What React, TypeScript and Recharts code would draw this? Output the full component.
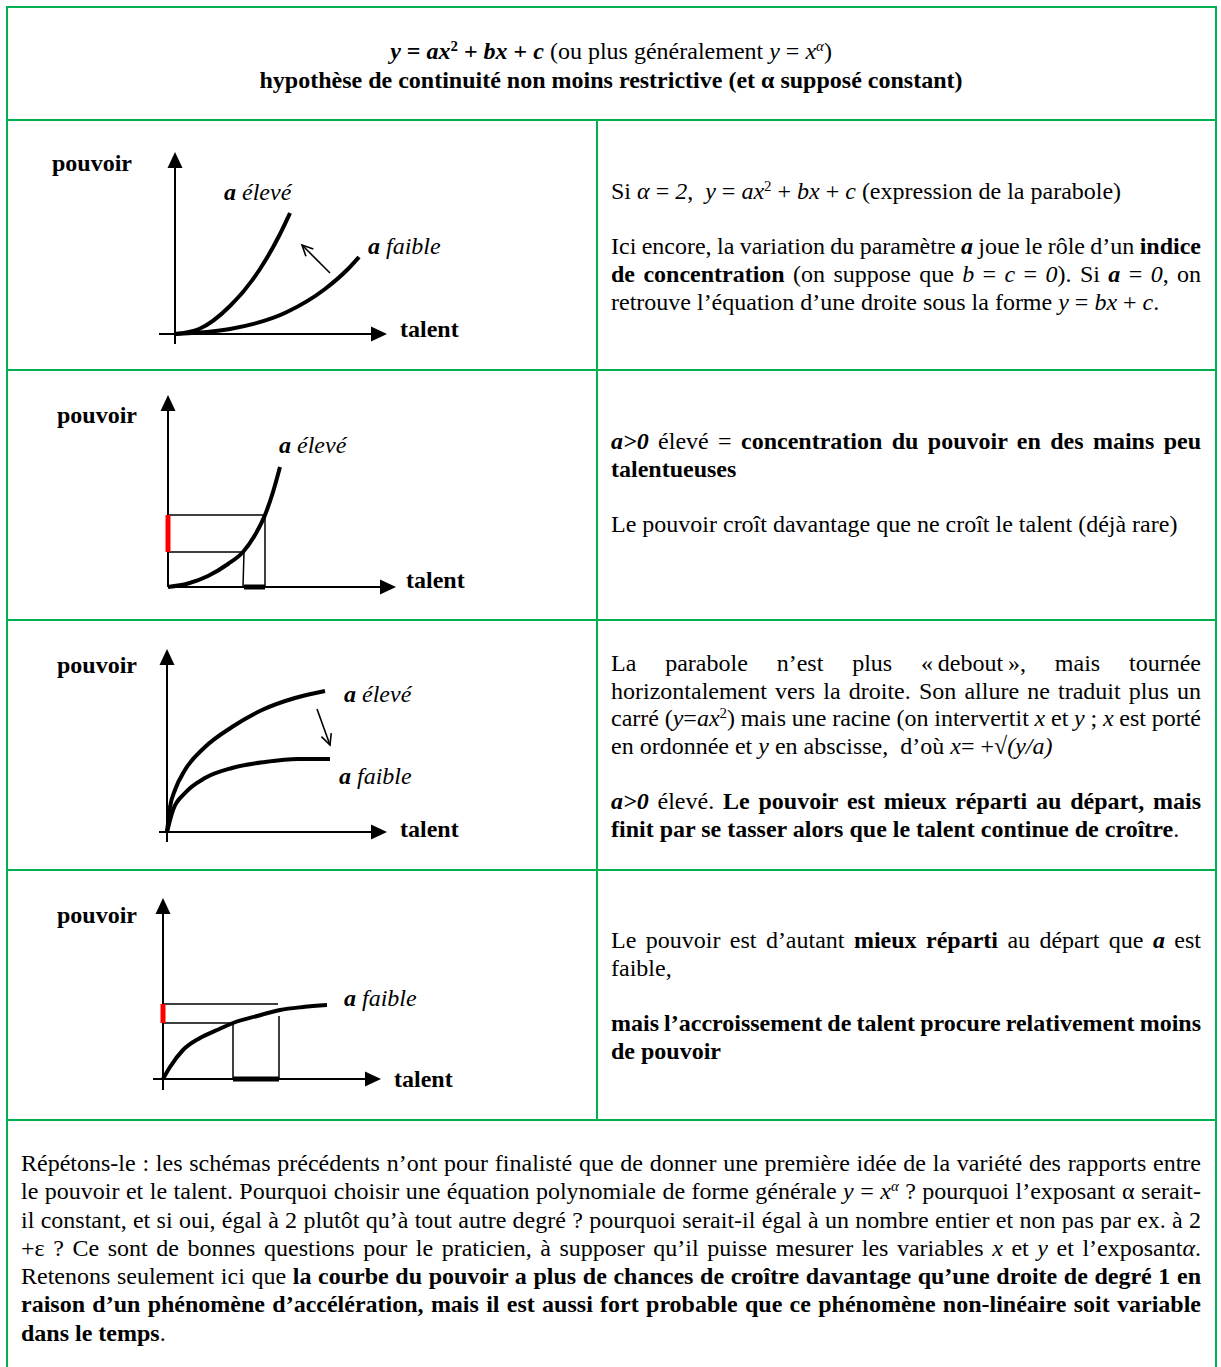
import React from "react";
import { LineChart, Line, XAxis, YAxis, ReferenceDot } from "recharts";

type Pt = { x: number; y: number };
type Label = { x: number; y: number; text: string; a?: boolean };

const SERIF = '"Liberation Serif", "Times New Roman", Times, serif';
const GREEN = "#00b050";

// talent (x) / pouvoir (y), arbitrary units read off the sketches
// diagram 1 : parabola, a high vs a low
const d1AxisX: Pt[] = [{ x: -1.6, y: 0 }, { x: 21.2, y: 0 }];
const d1AxisY: Pt[] = [{ x: 0, y: -1.0 }, { x: 0, y: 18.2 }];
const d1High: Pt[] = [
  { x: 0, y: 0 }, { x: 2.4, y: 0.5 }, { x: 5.5, y: 2.8 },
  { x: 8.5, y: 6.5 }, { x: 10.4, y: 9.8 }, { x: 11.5, y: 12.1 },
];
const d1Low: Pt[] = [
  { x: 0, y: 0 }, { x: 5.5, y: 0.5 }, { x: 11.2, y: 2.2 },
  { x: 15.0, y: 4.5 }, { x: 17.3, y: 6.5 }, { x: 18.4, y: 7.7 },
];
const d1Arrow: Pt[] = [{ x: 15.5, y: 6.1 }, { x: 12.7, y: 8.9 }];
const d1Labels: Label[] = [
  { x: -12.3, y: 17.1, text: "pouvoir" },
  { x: 22.5, y: 0.5, text: "talent" },
  { x: 4.9, y: 14.2, text: "élevé", a: true },
  { x: 19.3, y: 8.8, text: "faible", a: true },
];

// diagram 2 : a high, with projections
const d2AxisX: Pt[] = [{ x: 0, y: 0 }, { x: 22.8, y: 0 }];
const d2AxisY: Pt[] = [{ x: 0, y: 0 }, { x: 0, y: 19.2 }];
const d2High: Pt[] = [
  { x: 0, y: 0 }, { x: 2.0, y: 0.35 }, { x: 4.0, y: 1.1 }, { x: 6.0, y: 2.3 },
  { x: 7.5, y: 3.5 }, { x: 8.7, y: 5.2 }, { x: 9.7, y: 7.2 }, { x: 10.5, y: 9.5 },
  { x: 11.2, y: 12.0 },
];
const d2Guides: Pt[][] = [
  [{ x: 0, y: 7.2 }, { x: 9.7, y: 7.2 }, { x: 9.7, y: 0 }],
  [{ x: 0, y: 3.5 }, { x: 7.6, y: 3.5 }, { x: 7.5, y: 0 }],
];
const d2Red: Pt[] = [{ x: 0, y: 3.5 }, { x: 0, y: 7.2 }];
const d2Black: Pt[] = [{ x: 7.6, y: 0 }, { x: 9.7, y: 0 }];
const d2Labels: Label[] = [
  { x: -11.1, y: 17.2, text: "pouvoir" },
  { x: 23.8, y: 0.7, text: "talent" },
  { x: 11.1, y: 14.2, text: "élevé", a: true },
];

// diagram 3 : root shape, a high vs a low
const d3AxisX: Pt[] = [{ x: -0.8, y: 0 }, { x: 22.0, y: 0 }];
const d3AxisY: Pt[] = [{ x: 0, y: -1.0 }, { x: 0, y: 18.3 }];
const d3High: Pt[] = [
  { x: 0, y: 0 }, { x: 0.3, y: 2.5 }, { x: 0.8, y: 4.2 }, { x: 1.8, y: 6.2 },
  { x: 3.8, y: 8.5 }, { x: 6.5, y: 10.5 }, { x: 9.5, y: 12.2 }, { x: 12.8, y: 13.4 },
  { x: 15.8, y: 14.1 },
];
const d3Low: Pt[] = [
  { x: 0, y: 0 }, { x: 0.6, y: 2.2 }, { x: 1.8, y: 3.9 }, { x: 3.8, y: 5.4 },
  { x: 6.5, y: 6.4 }, { x: 9.8, y: 7.0 }, { x: 13.1, y: 7.3 }, { x: 16.3, y: 7.3 },
];
const d3Arrow: Pt[] = [{ x: 15.0, y: 12.3 }, { x: 16.3, y: 8.7 }];
const d3Labels: Label[] = [
  { x: -11.0, y: 16.7, text: "pouvoir" },
  { x: 23.3, y: 0.3, text: "talent" },
  { x: 17.7, y: 13.8, text: "élevé", a: true },
  { x: 17.2, y: 5.6, text: "faible", a: true },
];

// diagram 4 : a low, with projections
const d4AxisX: Pt[] = [{ x: -1.0, y: 0 }, { x: 21.8, y: 0 }];
const d4AxisY: Pt[] = [{ x: 0, y: -1.1 }, { x: 0, y: 18.1 }];
const d4Low: Pt[] = [
  { x: 0, y: 0 }, { x: 0.7, y: 1.2 }, { x: 2.0, y: 2.9 }, { x: 3.7, y: 4.1 },
  { x: 5.4, y: 4.9 }, { x: 7.0, y: 5.6 }, { x: 9.4, y: 6.3 }, { x: 11.7, y: 6.9 },
  { x: 14.0, y: 7.2 }, { x: 16.4, y: 7.4 },
];
const d4Guides: Pt[][] = [
  [{ x: 0, y: 7.5 }, { x: 11.5, y: 7.5 }],
  [{ x: 11.6, y: 6.3 }, { x: 11.6, y: 0 }],
  [{ x: 0, y: 5.6 }, { x: 7.0, y: 5.6 }, { x: 7.0, y: 0 }],
];
const d4Red: Pt[] = [{ x: 0, y: 5.6 }, { x: 0, y: 7.5 }];
const d4Black: Pt[] = [{ x: 7.0, y: 0 }, { x: 11.6, y: 0 }];
const d4Labels: Label[] = [
  { x: -10.6, y: 16.4, text: "pouvoir" },
  { x: 23.1, y: 0, text: "talent" },
  { x: 18.1, y: 8.1, text: "faible", a: true },
];

const X_DOMAIN: [number, number] = [-15, 41];
const Y_DOMAIN: [number, number] = [-4, 20];
const CW = 560;
const CH = 240;

type Spec = {
  ox: number;
  oy: number;
  axisX: Pt[];
  axisY: Pt[];
  curves: Pt[][];
  guides?: Pt[][];
  red?: Pt[];
  black?: Pt[];
  arrow?: Pt[];
  labels: Label[];
};

const specs: Spec[] = [
  { ox: 175, oy: 334, axisX: d1AxisX, axisY: d1AxisY, curves: [d1High, d1Low], arrow: d1Arrow, labels: d1Labels },
  { ox: 168, oy: 587, axisX: d2AxisX, axisY: d2AxisY, curves: [d2High], guides: d2Guides, red: d2Red, black: d2Black, labels: d2Labels },
  { ox: 167, oy: 832, axisX: d3AxisX, axisY: d3AxisY, curves: [d3High, d3Low], arrow: d3Arrow, labels: d3Labels },
  { ox: 163, oy: 1079, axisX: d4AxisX, axisY: d4AxisY, curves: [d4Low], guides: d4Guides, red: d4Red, black: d4Black, labels: d4Labels },
];

const triangle = (dir: "right" | "up") => (p: any) => {
  const { cx, cy } = p;
  const pts =
    dir === "right"
      ? `${cx},${cy} ${cx - 16},${cy - 7.5} ${cx - 16},${cy + 7.5}`
      : `${cx},${cy} ${cx - 7.5},${cy + 16} ${cx + 7.5},${cy + 16}`;
  return <polygon points={pts} fill="#000" />;
};

const openHead = (from: Pt, to: Pt) => (p: any) => {
  const { cx, cy } = p;
  const ang = Math.atan2(-(to.y - from.y), to.x - from.x);
  const L = 12;
  const w1 = [cx - L * Math.cos(ang - 0.45), cy - L * Math.sin(ang - 0.45)];
  const w2 = [cx - L * Math.cos(ang + 0.45), cy - L * Math.sin(ang + 0.45)];
  return (
    <path
      d={`M${w1[0]},${w1[1]} L${cx},${cy} L${w2[0]},${w2[1]}`}
      fill="none"
      stroke="#000"
      strokeWidth={1.6}
    />
  );
};

const labelShape = (l: Label) => (p: any) => (
  <text x={p.cx} y={p.cy} dominantBaseline="central" fontFamily={SERIF} fontSize={24} fill="#000">
    {l.a ? (
      <>
        <tspan fontWeight="bold" fontStyle="italic">a</tspan>
        <tspan fontStyle="italic">{" " + l.text}</tspan>
      </>
    ) : (
      <tspan fontWeight="bold">{l.text}</tspan>
    )}
  </text>
);

function Diagram({ spec }: { spec: Spec }) {
  const xEnd = spec.axisX[spec.axisX.length - 1];
  const yEnd = spec.axisY[spec.axisY.length - 1];
  const xLine = [spec.axisX[0], { x: xEnd.x - 1, y: xEnd.y }];
  const yLine = [spec.axisY[0], { x: yEnd.x, y: yEnd.y - 1 }];
  return (
    <div style={{ position: "absolute", left: spec.ox - 150, top: spec.oy - 200 }}>
      <LineChart width={CW} height={CH} margin={{ top: 0, right: 0, bottom: 0, left: 0 }}>
        <XAxis type="number" dataKey="x" domain={X_DOMAIN} hide allowDataOverflow />
        <YAxis type="number" domain={Y_DOMAIN} hide allowDataOverflow />
        <Line data={xLine} dataKey="y" type="linear" stroke="#000" strokeWidth={2} dot={false} isAnimationActive={false} />
        <Line data={yLine} dataKey="y" type="linear" stroke="#000" strokeWidth={2} dot={false} isAnimationActive={false} />
        {(spec.guides || []).map((g, i) => (
          <Line key={"g" + i} data={g} dataKey="y" type="linear" stroke="#000" strokeWidth={1.5} dot={false} isAnimationActive={false} />
        ))}
        {spec.curves.map((c, i) => (
          <Line key={"c" + i} data={c} dataKey="y" type="monotone" stroke="#000" strokeWidth={4} dot={false} isAnimationActive={false} />
        ))}
        {spec.red && (
          <Line data={spec.red} dataKey="y" type="linear" stroke="#ff0000" strokeWidth={5} dot={false} isAnimationActive={false} />
        )}
        {spec.black && (
          <Line data={spec.black} dataKey="y" type="linear" stroke="#000" strokeWidth={5} dot={false} isAnimationActive={false} />
        )}
        {spec.arrow && (
          <Line data={spec.arrow} dataKey="y" type="linear" stroke="#000" strokeWidth={1.6} dot={false} isAnimationActive={false} />
        )}
        {spec.arrow && (
          <ReferenceDot
            x={spec.arrow[1].x}
            y={spec.arrow[1].y}
            shape={openHead(spec.arrow[0], spec.arrow[1])}
          />
        )}
        <ReferenceDot x={xEnd.x} y={xEnd.y} shape={triangle("right")} />
        <ReferenceDot x={yEnd.x} y={yEnd.y} shape={triangle("up")} />
        {spec.labels.map((l, i) => (
          <ReferenceDot key={"l" + i} x={l.x} y={l.y} shape={labelShape(l)} />
        ))}
      </LineChart>
    </div>
  );
}

const LH = 27.7;
const NNB = "\u202f";

const Sup = ({ children }: { children: React.ReactNode }) => (
  <span style={{ fontSize: "0.62em", position: "relative", top: "-0.55em" }}>{children}</span>
);

// one printed line; justified lines get their word spacing fitted to the width
function Ln({ children, j, lh = LH, w = 590 }: { children?: React.ReactNode; j?: boolean; lh?: number; w?: number }) {
  const ref = React.useRef<HTMLSpanElement>(null);
  React.useLayoutEffect(() => {
    if (!j) return;
    const fit = () => {
      const el = ref.current;
      if (!el) return;
      el.style.wordSpacing = "0px";
      const natural = el.getBoundingClientRect().width;
      const gaps = (el.textContent || "").trim().split(/ +/).length - 1;
      if (gaps > 0) el.style.wordSpacing = (w - natural) / gaps + "px";
    };
    fit();
    if ((document as any).fonts) (document as any).fonts.ready.then(fit);
  }, [j, w]);
  return (
    <div style={{ height: lh, lineHeight: lh + "px", whiteSpace: "nowrap" }}>
      <span ref={ref}>{children || "\u00a0"}</span>
    </div>
  );
}

const Block = ({ left, top, width, children }: { left: number; top: number; width: number; children: React.ReactNode }) => (
  <div style={{ position: "absolute", left, top, width }}>{children}</div>
);

const hLine = (y: number) => (
  <div style={{ position: "absolute", left: 6, top: y - 1, width: 1211, height: 2, background: GREEN }} />
);

export default function App() {
  const F = 1180;
  const FL = 28.3;
  return (
    <div
      style={{
        position: "absolute",
        left: 0,
        top: 0,
        width: 1221,
        height: 1367,
        overflow: "hidden",
        background: "#fff",
        fontFamily: SERIF,
        fontSize: 24,
        color: "#000",
      }}
    >
      <div
        style={{
          position: "absolute",
          left: 6,
          top: 6,
          width: 1211,
          height: 1380,
          boxSizing: "border-box",
          border: `2px solid ${GREEN}`,
        }}
      />
      {hLine(120)}
      {hLine(370)}
      {hLine(620)}
      {hLine(870)}
      {hLine(1120)}
      <div style={{ position: "absolute", left: 596, top: 120, width: 2, height: 1000, background: GREEN }} />

      <Block left={7} top={37} width={1208}>
        <div style={{ textAlign: "center", lineHeight: "29px", height: 29 }}>
          <b>
            <i>y</i> = <i>ax</i>
            <Sup>2</Sup> + <i>bx</i> + <i>c</i>
          </b>{" "}
          (ou plus généralement <i>y</i> = <i>x</i>
          <Sup>
            <i>α</i>
          </Sup>
          )
        </div>
        <div style={{ textAlign: "center", lineHeight: "29px", height: 29 }}>
          <b>hypothèse de continuité non moins restrictive (et α supposé constant)</b>
        </div>
      </Block>

      {specs.map((s, i) => (
        <Diagram key={i} spec={s} />
      ))}

      <Block left={611} top={178} width={590}>
        <Ln>
          Si <i>α</i> = <i>2</i>,{"\u00a0"} <i>y</i> = <i>ax</i>
          <Sup>2</Sup> + <i>bx</i> + <i>c</i> (expression de la parabole)
        </Ln>
        <Ln />
        <Ln j>
          Ici encore, la variation du paramètre{" "}
          <b>
            <i>a</i>
          </b>{" "}
          joue le rôle d’un <b>indice</b>
        </Ln>
        <Ln j>
          <b>de concentration</b> (on suppose que <i>b</i> = <i>c</i> = <i>0</i>). Si{" "}
          <b>
            <i>a</i>
          </b>{" "}
          = <i>0</i>, on
        </Ln>
        <Ln>
          retrouve l’équation d’une droite sous la forme <i>y</i> = <i>bx</i> + <i>c</i>.
        </Ln>
      </Block>

      <Block left={611} top={428} width={590}>
        <Ln j>
          <b>
            <i>a&gt;0</i>
          </b>{" "}
          élevé = <b>concentration du pouvoir en des mains peu</b>
        </Ln>
        <Ln>
          <b>talentueuses</b>
        </Ln>
        <Ln />
        <Ln>Le pouvoir croît davantage que ne croît le talent (déjà rare)</Ln>
      </Block>

      <Block left={611} top={650} width={590}>
        <Ln j>
          La parabole n’est plus «{NNB}debout{NNB}», mais tournée
        </Ln>
        <Ln j>horizontalement vers la droite. Son allure ne traduit plus un</Ln>
        <Ln j>
          carré (<i>y</i>=<i>ax</i>
          <Sup>2</Sup>) mais une racine (on intervertit <i>x</i> et <i>y</i> ; <i>x</i> est porté
        </Ln>
        <Ln>
          en ordonnée et <i>y</i> en abscisse,{"\u00a0"} d’où <i>x</i>= +√<i>(y/a)</i>
        </Ln>
        <Ln />
        <Ln j>
          <b>
            <i>a&gt;0</i>
          </b>{" "}
          élevé. <b>Le pouvoir est mieux réparti au départ, mais</b>
        </Ln>
        <Ln>
          <b>finit par se tasser alors que le talent continue de croître</b>.
        </Ln>
      </Block>

      <Block left={611} top={927} width={590}>
        <Ln j>
          Le pouvoir est d’autant <b>mieux réparti</b> au départ que{" "}
          <b>
            <i>a</i>
          </b>{" "}
          est
        </Ln>
        <Ln>faible,</Ln>
        <Ln />
        <Ln j>
          <b>mais l’accroissement de talent procure relativement moins</b>
        </Ln>
        <Ln>
          <b>de pouvoir</b>
        </Ln>
      </Block>

      <Block left={21} top={1149} width={F}>
        <Ln j lh={FL} w={F}>
          Répétons-le : les schémas précédents n’ont pour finalisté que de donner une première idée de la variété des rapports entre
        </Ln>
        <Ln j lh={FL} w={F}>
          le pouvoir et le talent. Pourquoi choisir une équation polynomiale de forme générale <i>y</i> = <i>x</i>
          <Sup>
            <i>α</i>
          </Sup>{" "}
          ? pourquoi l’exposant α serait-
        </Ln>
        <Ln j lh={FL} w={F}>
          il constant, et si oui, égal à 2 plutôt qu’à tout autre degré ? pourquoi serait-il égal à un nombre entier et non pas par ex. à 2
        </Ln>
        <Ln j lh={FL} w={F}>
          +ε ? Ce sont de bonnes questions pour le praticien, à supposer qu’il puisse mesurer les variables <i>x</i> et <i>y</i> et
          l’exposant<i>α</i>.
        </Ln>
        <Ln j lh={FL} w={F}>
          Retenons seulement ici que <b>la courbe du pouvoir a plus de chances de croître davantage qu’une droite de degré 1 en</b>
        </Ln>
        <Ln j lh={FL} w={F}>
          <b>raison d’un phénomène d’accélération, mais il est aussi fort probable que ce phénomène non-linéaire soit variable</b>
        </Ln>
        <Ln lh={FL} w={F}>
          <b>dans le temps</b>.
        </Ln>
      </Block>
    </div>
  );
}
